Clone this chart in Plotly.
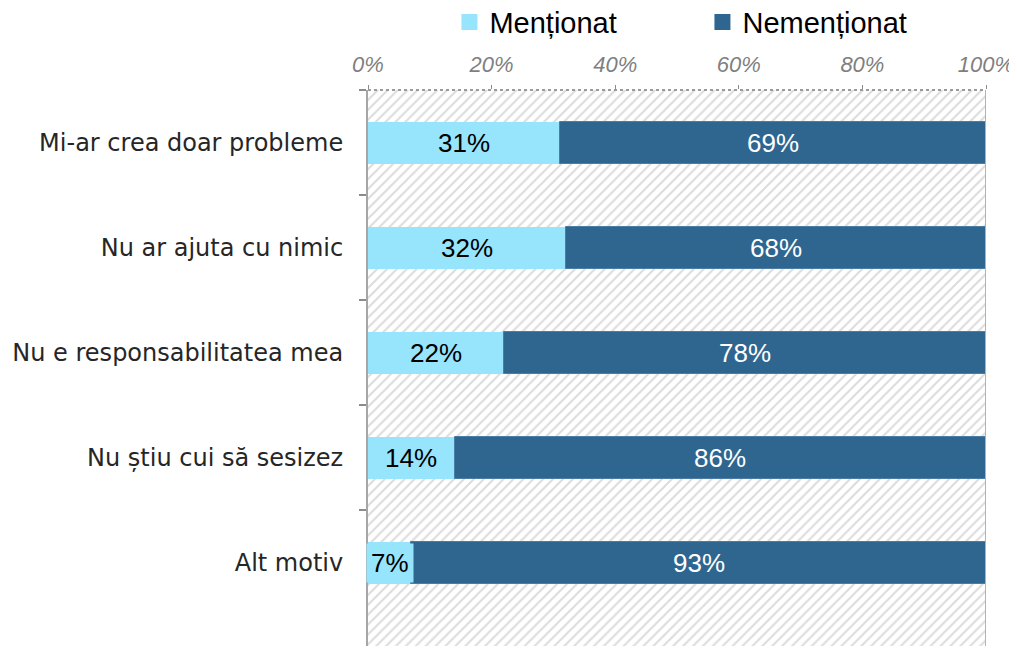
import plotly.graph_objects as go

categories = [
    "Mi-ar crea doar probleme",
    "Nu ar ajuta cu nimic",
    "Nu e responsabilitatea mea",
    "Nu știu cui să sesizez",
    "Alt motiv",
    "Îmi e frică",
]
mentionat = [31, 32, 22, 14, 7, 9]
nementionat = [69, 68, 78, 86, 93, 91]
full_scale = [100] * len(categories)
x_ticks = [0, 20, 40, 60, 80, 100]
x_tick_text = ["0%", "20%", "40%", "60%", "80%", "100%"]

LIGHT = "#97E4FD"
DARK = "#2F668F"

fig = go.Figure()

# hatched plot background (one band per category)
fig.add_trace(go.Bar(
    y=categories, x=full_scale, base=0, orientation="h", width=1,
    marker=dict(color="white", line=dict(width=0),
                pattern=dict(shape="/", fgcolor="#b8b8b8", bgcolor="white",
                             size=7, solidity=0.28)),
    showlegend=False, hoverinfo="skip",
))

fig.add_trace(go.Bar(
    y=categories, x=mentionat, base=0, orientation="h", width=0.4,
    marker=dict(color=LIGHT, line=dict(width=0)),
    showlegend=False, name="Menționat",
))
fig.add_trace(go.Bar(
    y=categories, x=nementionat, base=mentionat, orientation="h", width=0.4,
    marker=dict(color=DARK, line=dict(width=1, color="#4C7EA5")),
    showlegend=False, name="Nemenționat",
))

# legend-only entries with larger square markers
fig.add_trace(go.Scatter(x=[None], y=[None], mode="markers", name="Menționat",
                         marker=dict(symbol="square", size=16, color=LIGHT)))
fig.add_trace(go.Scatter(x=[None], y=[None], mode="markers", name="Nemenționat",
                         marker=dict(symbol="square", size=16, color=DARK)))

# value labels
for cat, m, n in zip(categories, mentionat, nementionat):
    fig.add_annotation(x=m / 2, y=cat, xref="x", yref="y", text=f"{m}%",
                       showarrow=False, bgcolor=LIGHT, borderpad=4,
                       font=dict(family="Liberation Sans, Arial", size=26, color="#000000"))
    fig.add_annotation(x=m + n / 2, y=cat, xref="x", yref="y", text=f"{n}%",
                       showarrow=False,
                       font=dict(family="Liberation Sans, Arial", size=26, color="#FFFFFF"))

# borders: dotted top, solid right
fig.add_shape(type="line", xref="x", yref="paper", x0=0, x1=100, y0=1, y1=1,
              line=dict(color="#9a9a9a", width=2, dash="dot"))
fig.add_shape(type="line", xref="x", yref="paper", x0=100, x1=100, y0=0, y1=1,
              line=dict(color="#b3b3b3", width=2))

fig.update_layout(
    width=1009, height=638,
    margin=dict(l=360, r=31, t=82, b=0),
    barmode="overlay",
    bargap=0,
    plot_bgcolor="white", paper_bgcolor="white",
    legend=dict(orientation="h", xref="container", yref="container",
                x=0.4375, xanchor="left", y=0.978, yanchor="middle",
                font=dict(family="Liberation Sans, Arial", size=29, color="#000000"),
                entrywidth=208, entrywidthmode="pixels",
                itemclick=False, itemdoubleclick=False),
    showlegend=True,
)

fig.update_xaxes(
    side="top", range=[0, 100], tickvals=x_ticks, ticktext=x_tick_text,
    showgrid=False, zeroline=False, showline=False,
    ticks="outside", ticklen=4, tickcolor="#8c8c8c", tickwidth=1,
    ticklabelstandoff=4,
    tickfont=dict(family="Liberation Sans, Arial", size=22, color="#7f7f7f", style="italic"),
)
fig.update_yaxes(
    type="category", categoryorder="array", categoryarray=categories,
    range=[4.795, -0.5], autorange=False,
    showgrid=False, zeroline=False,
    showline=True, linecolor="#a6a6a6", linewidth=2,
    ticks="outside", tickson="boundaries", ticklen=7, tickcolor="#8c8c8c", tickwidth=2,
    ticklabelstandoff=18,
    tickfont=dict(family="DejaVu Sans", size=24, color="#262626"),
)

fig.write_html("out.html")
